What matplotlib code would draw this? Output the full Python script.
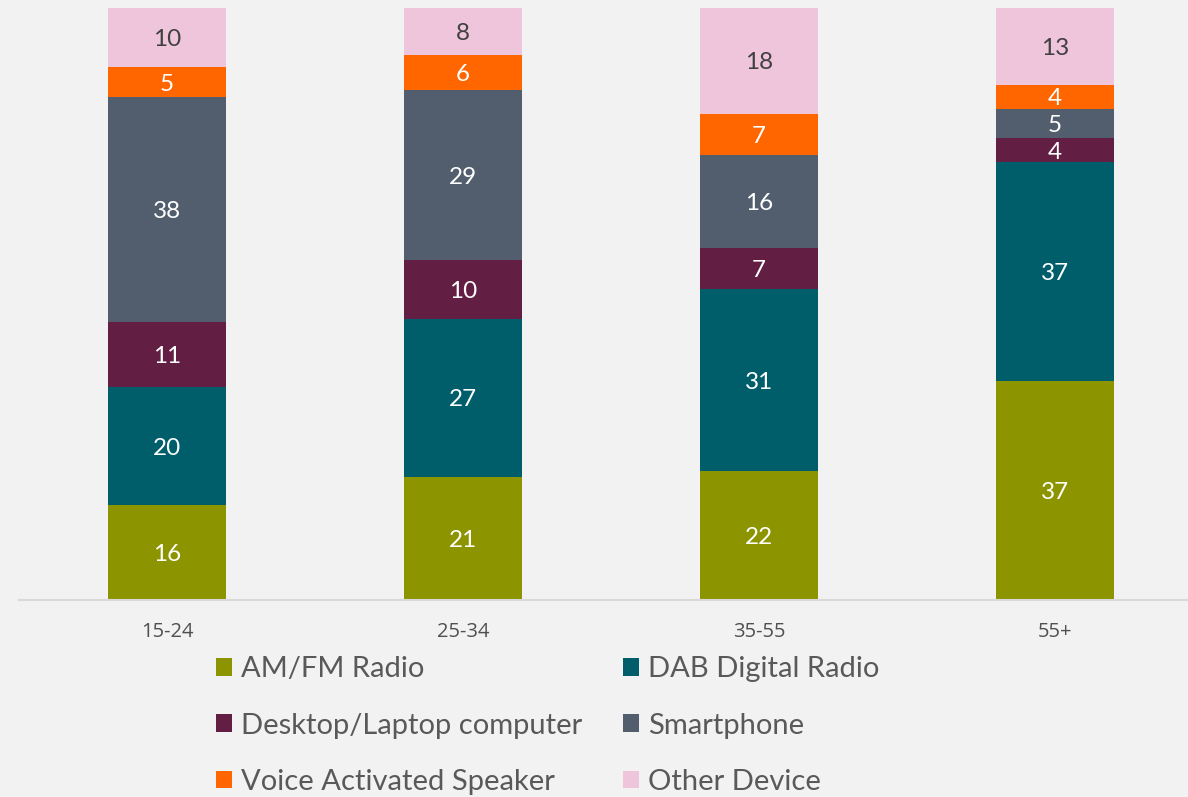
import numpy as np
import matplotlib.pyplot as plt

ages = ['15-24', '25-34', '35-55', '55+']
amfm = [16, 21, 22, 37]
dab = [20, 27, 31, 37]
desktop = [11, 10, 7, 4]
smartphone = [38, 29, 16, 5]
voice = [5, 6, 7, 4]
other = [10, 8, 18, 13]

series = [
    ('AM/FM Radio', amfm, '#8c9400', 'white'),
    ('DAB Digital Radio', dab, '#005e6b', 'white'),
    ('Desktop/Laptop computer', desktop, '#631f43', 'white'),
    ('Smartphone', smartphone, '#525e6e', 'white'),
    ('Voice Activated Speaker', voice, '#ff6600', 'white'),
    ('Other Device', other, '#efc5dc', '#404040'),
]

bg = '#f2f2f2'
fig = plt.figure(figsize=(11.88, 7.97), dpi=100, facecolor=bg)
ax = fig.add_axes([19 / 1188, 197 / 797, 1184 / 1188, 592 / 797], facecolor=bg)

# bars are drawn as shares of each group's total (100% stacked)
totals = np.sum([s[1] for s in series], axis=0)
x = np.arange(len(ages))
bottom = np.zeros(len(ages))
handles = []
for name, vals, color, tcol in series:
    h = np.array(vals) / totals * 100
    bars = ax.bar(x, h, 0.4, bottom=bottom, color=color, label=name)
    handles.append(bars)
    for xi, b, hi, v in zip(x, bottom, h, vals):
        ax.text(xi, b + hi / 2, str(v), ha='center', va='center_baseline',
                color=tcol, fontsize=17.5, family='Lato')
    bottom += h

ax.set_xlim(-0.5, len(ages) - 0.5)
ax.set_ylim(0, 100)
ax.set_yticks([])
ax.set_xticks(x)
ax.set_xticklabels(ages, fontsize=14.5, color='#505050', family='Open Sans')
ax.tick_params(axis='x', length=0, pad=16)
for side in ['top', 'right', 'left']:
    ax.spines[side].set_visible(False)
ax.spines['bottom'].set_color('#d9d9d9')
ax.spines['bottom'].set_linewidth(1.5)

order = [0, 2, 4, 1, 3, 5]
leg = fig.legend([handles[i] for i in order], [series[i][0] for i in order],
                 ncol=2, loc='upper left', bbox_to_anchor=(190 / 1188, 1 - 630 / 797),
                 frameon=False, handlelength=0.55, handleheight=0.55,
                 handletextpad=0.3, columnspacing=1.4, labelspacing=1.04,
                 prop={'family': 'Lato', 'size': 21})
for t in leg.get_texts():
    t.set_color('#595959')

fig.savefig('out.png', dpi=100, facecolor=bg)
